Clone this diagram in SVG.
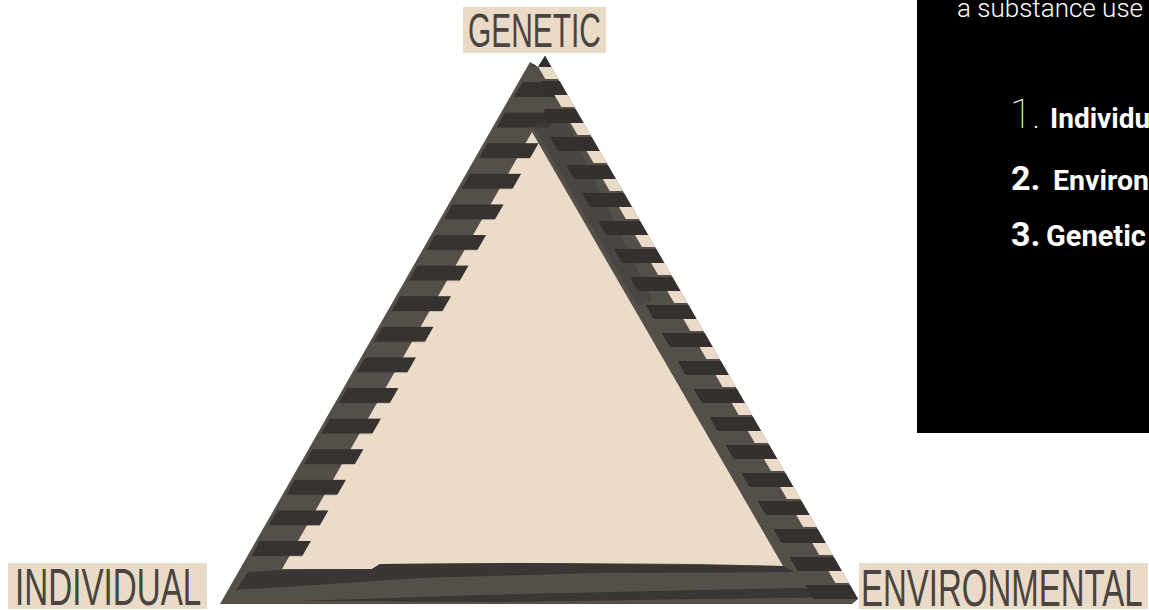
<svg xmlns="http://www.w3.org/2000/svg" width="1149" height="610" viewBox="0 0 1149 610">
<defs>
<style>
.lbl-bg{fill:#EADBC8}
.lbl{font-family:"Liberation Sans",Arial,sans-serif;fill:#4A4440;font-weight:400}
.pt{font-family:Roboto,"Liberation Sans",sans-serif;fill:#FFFFFF}
.b{font-weight:700}
</style>
<clipPath id="outerClip"><polygon points="220,604 530,62 538,67 545,56 858,599 852,604"/></clipPath>
<clipPath id="leftClip"><polygon points="538,55 600,55 545,132 300,560 249,560"/></clipPath>
<clipPath id="rightClip"><polygon points="536,40 560,40 880,610 814,600 547,132"/></clipPath>
<clipPath id="notchClip"><polygon points="532,56 560,56 872,598 844,598"/></clipPath>
<pattern id="leftStripes" patternUnits="userSpaceOnUse" x="0" y="82" width="1149" height="30.6"><rect width="1149" height="15" fill="#36322F"/></pattern>
<pattern id="rightStripes" patternUnits="userSpaceOnUse" x="0" y="53" width="1149" height="28"><rect width="1149" height="14" fill="#34302D"/></pattern>
<pattern id="notches" patternUnits="userSpaceOnUse" x="0" y="53" width="1149" height="28"><rect y="14" width="1149" height="12" fill="#EADBC8"/></pattern>
</defs>
<rect width="1149" height="610" fill="#FFFFFF"/>

<g id="triangle">
  <polygon points="220,604 530,62 538,67 545,56 858,599 852,604" fill="#554F49"/>
  <polygon points="532,132 783,566 700,564 560,563 380,564 372,569 282,569" fill="#EBDCC9"/>
  <g clip-path="url(#outerClip)">
    <rect x="200" y="40" width="700" height="570" fill="url(#leftStripes)" clip-path="url(#leftClip)"/>
    <polygon points="533,126 562,112 652,300 638,306" fill="#403C38" opacity="0.5"/>
    <polygon points="236,590 248,572 282,570 372,569 380,564 520,563 700,565 783,566 795,572 600,573 420,578 300,586" fill="#3A3633"/>
    <polygon points="300,601 480,595 700,590 800,588 852,590 856,597 700,599 500,602" fill="#3A3633"/>
    <rect x="200" y="40" width="700" height="570" fill="url(#rightStripes)" clip-path="url(#rightClip)"/>
    <rect x="200" y="40" width="700" height="570" fill="url(#notches)" clip-path="url(#notchClip)"/>
  </g>
</g>

<g id="node-genetic">
  <rect class="lbl-bg" x="463" y="7" width="143" height="46"/>
  <text class="lbl" transform="translate(468,47) scale(0.63,1)" x="0" y="0" font-size="47.5">GENETIC</text>
</g>
<g id="node-individual">
  <rect class="lbl-bg" x="8" y="563" width="199" height="46"/>
  <text class="lbl" transform="translate(15,605) scale(0.651,1)" x="0" y="0" font-size="51">INDIVIDUAL</text>
</g>
<g id="node-environmental">
  <rect class="lbl-bg" x="859" y="563" width="289" height="46"/>
  <text class="lbl" transform="translate(861,606) scale(0.647,1)" x="0" y="0" font-size="51">ENVIRONMENTAL</text>
</g>

<g id="connectors"></g>

<g id="info-panel">
  <rect x="917" y="0" width="232" height="433" fill="#000000"/>
  <text class="pt" x="957" y="17" font-size="26" font-weight="300">a substance use</text>
  <text class="pt" x="1010" y="128" font-size="40" font-weight="100">1.</text>
  <text class="pt b" x="1050" y="128" font-size="28">Individu</text>
  <text class="pt b" x="1011" y="190" font-size="34">2.</text>
  <text class="pt b" x="1053" y="190" font-size="28.5">Environ</text>
  <text class="pt b" x="1011" y="246" font-size="34">3.</text>
  <text class="pt b" x="1046" y="246" font-size="29">Genetic</text>
</g>
</svg>
